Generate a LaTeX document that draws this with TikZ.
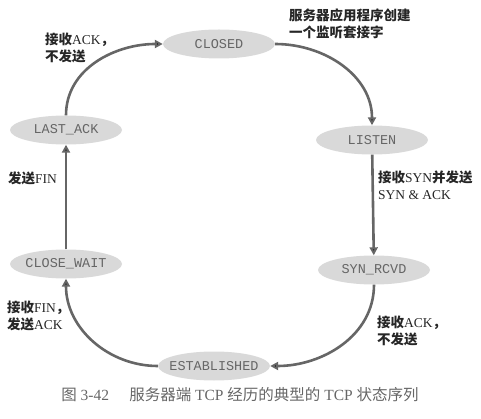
\documentclass[tikz,border=0pt]{standalone}
\usepackage{fontspec}
\setmainfont{Liberation Serif}
\setmonofont{Liberation Mono}
\newfontfamily\cjk{Noto Sans CJK SC}
\newcommand{\zh}[1]{{\cjk\bfseries #1}}
\usetikzlibrary{shapes.geometric,arrows.meta}
\begin{document}
\begin{tikzpicture}[
		x = 1pt, y = -1pt,
		> = {Triangle[length=8pt,width=8pt]}, % arrow head style
		shorten > = 0pt,
		state/.style = {ellipse, fill=black!15, minimum width=112pt, minimum height=29pt,
			inner xsep=-6pt, inner ysep=0pt, text=black!60,
			font=\ttfamily\fontsize{13.5}{14}\selectfont},
		note/.style = {anchor=west, align=left, inner sep=0pt, text=black!85,
			font=\fontsize{13.5}{16.5}\selectfont},
		trans/.style = {draw=black!60, line width=2.6pt}
		]
		\useasboundingbox (0,0) rectangle (481,419);
		
		\node[state] (qC) at (219,44) {CLOSED};
		\node[state] (qL) at (372,140) {LISTEN};
		\node[state] (qS) at (374,270) {SYN\_RCVD};
		\node[state] (qE) at (214,366) {ESTABLISHED};
		\node[state] (qW) at (66,264) {CLOSE\_WAIT};
		\node[state] (qA) at (66,130) {LAST\_ACK};
		
		\path[->, trans]
		(qC) edge [out=0, in=90] (qL)
		(qL) edge [] (qS)
		(qS) edge [out=270, in=0] (qE)
		(qE) edge [out=180, in=270] (qW)
		(qW) edge [] (qA)
		(qA) edge [out=90, in=180] (qC);
		
		% transition texts
		\node[note] (tApp) at (289,24) {\zh{服务器应用程序创建}\\\zh{一个监听套接字}};
		\node[note] (tSyn) at (378,185) {\zh{接收}SYN\zh{并发送}\\SYN \& ACK};
		\node[note] (tAck) at (377,331) {\zh{接收}ACK\zh{，}\\\zh{不发送}};
		\node[note] (tFinAck) at (7,316) {\zh{接收}FIN\zh{，}\\\zh{发送}ACK};
		\node[note] (tFin) at (8,178) {\zh{发送}FIN};
		\node[note] (tLast) at (45,48) {\zh{接收}ACK\zh{，}\\\zh{不发送}};
		
		\node[text=black!60, font=\fontsize{15.5}{16}\selectfont] (cap) at (240,395)
		{{\cjk 图} 3-42\hspace{1.3em}{\cjk 服务器端} TCP {\cjk 经历的典型的} TCP {\cjk 状态序列}};
	\end{tikzpicture}
\end{document}
